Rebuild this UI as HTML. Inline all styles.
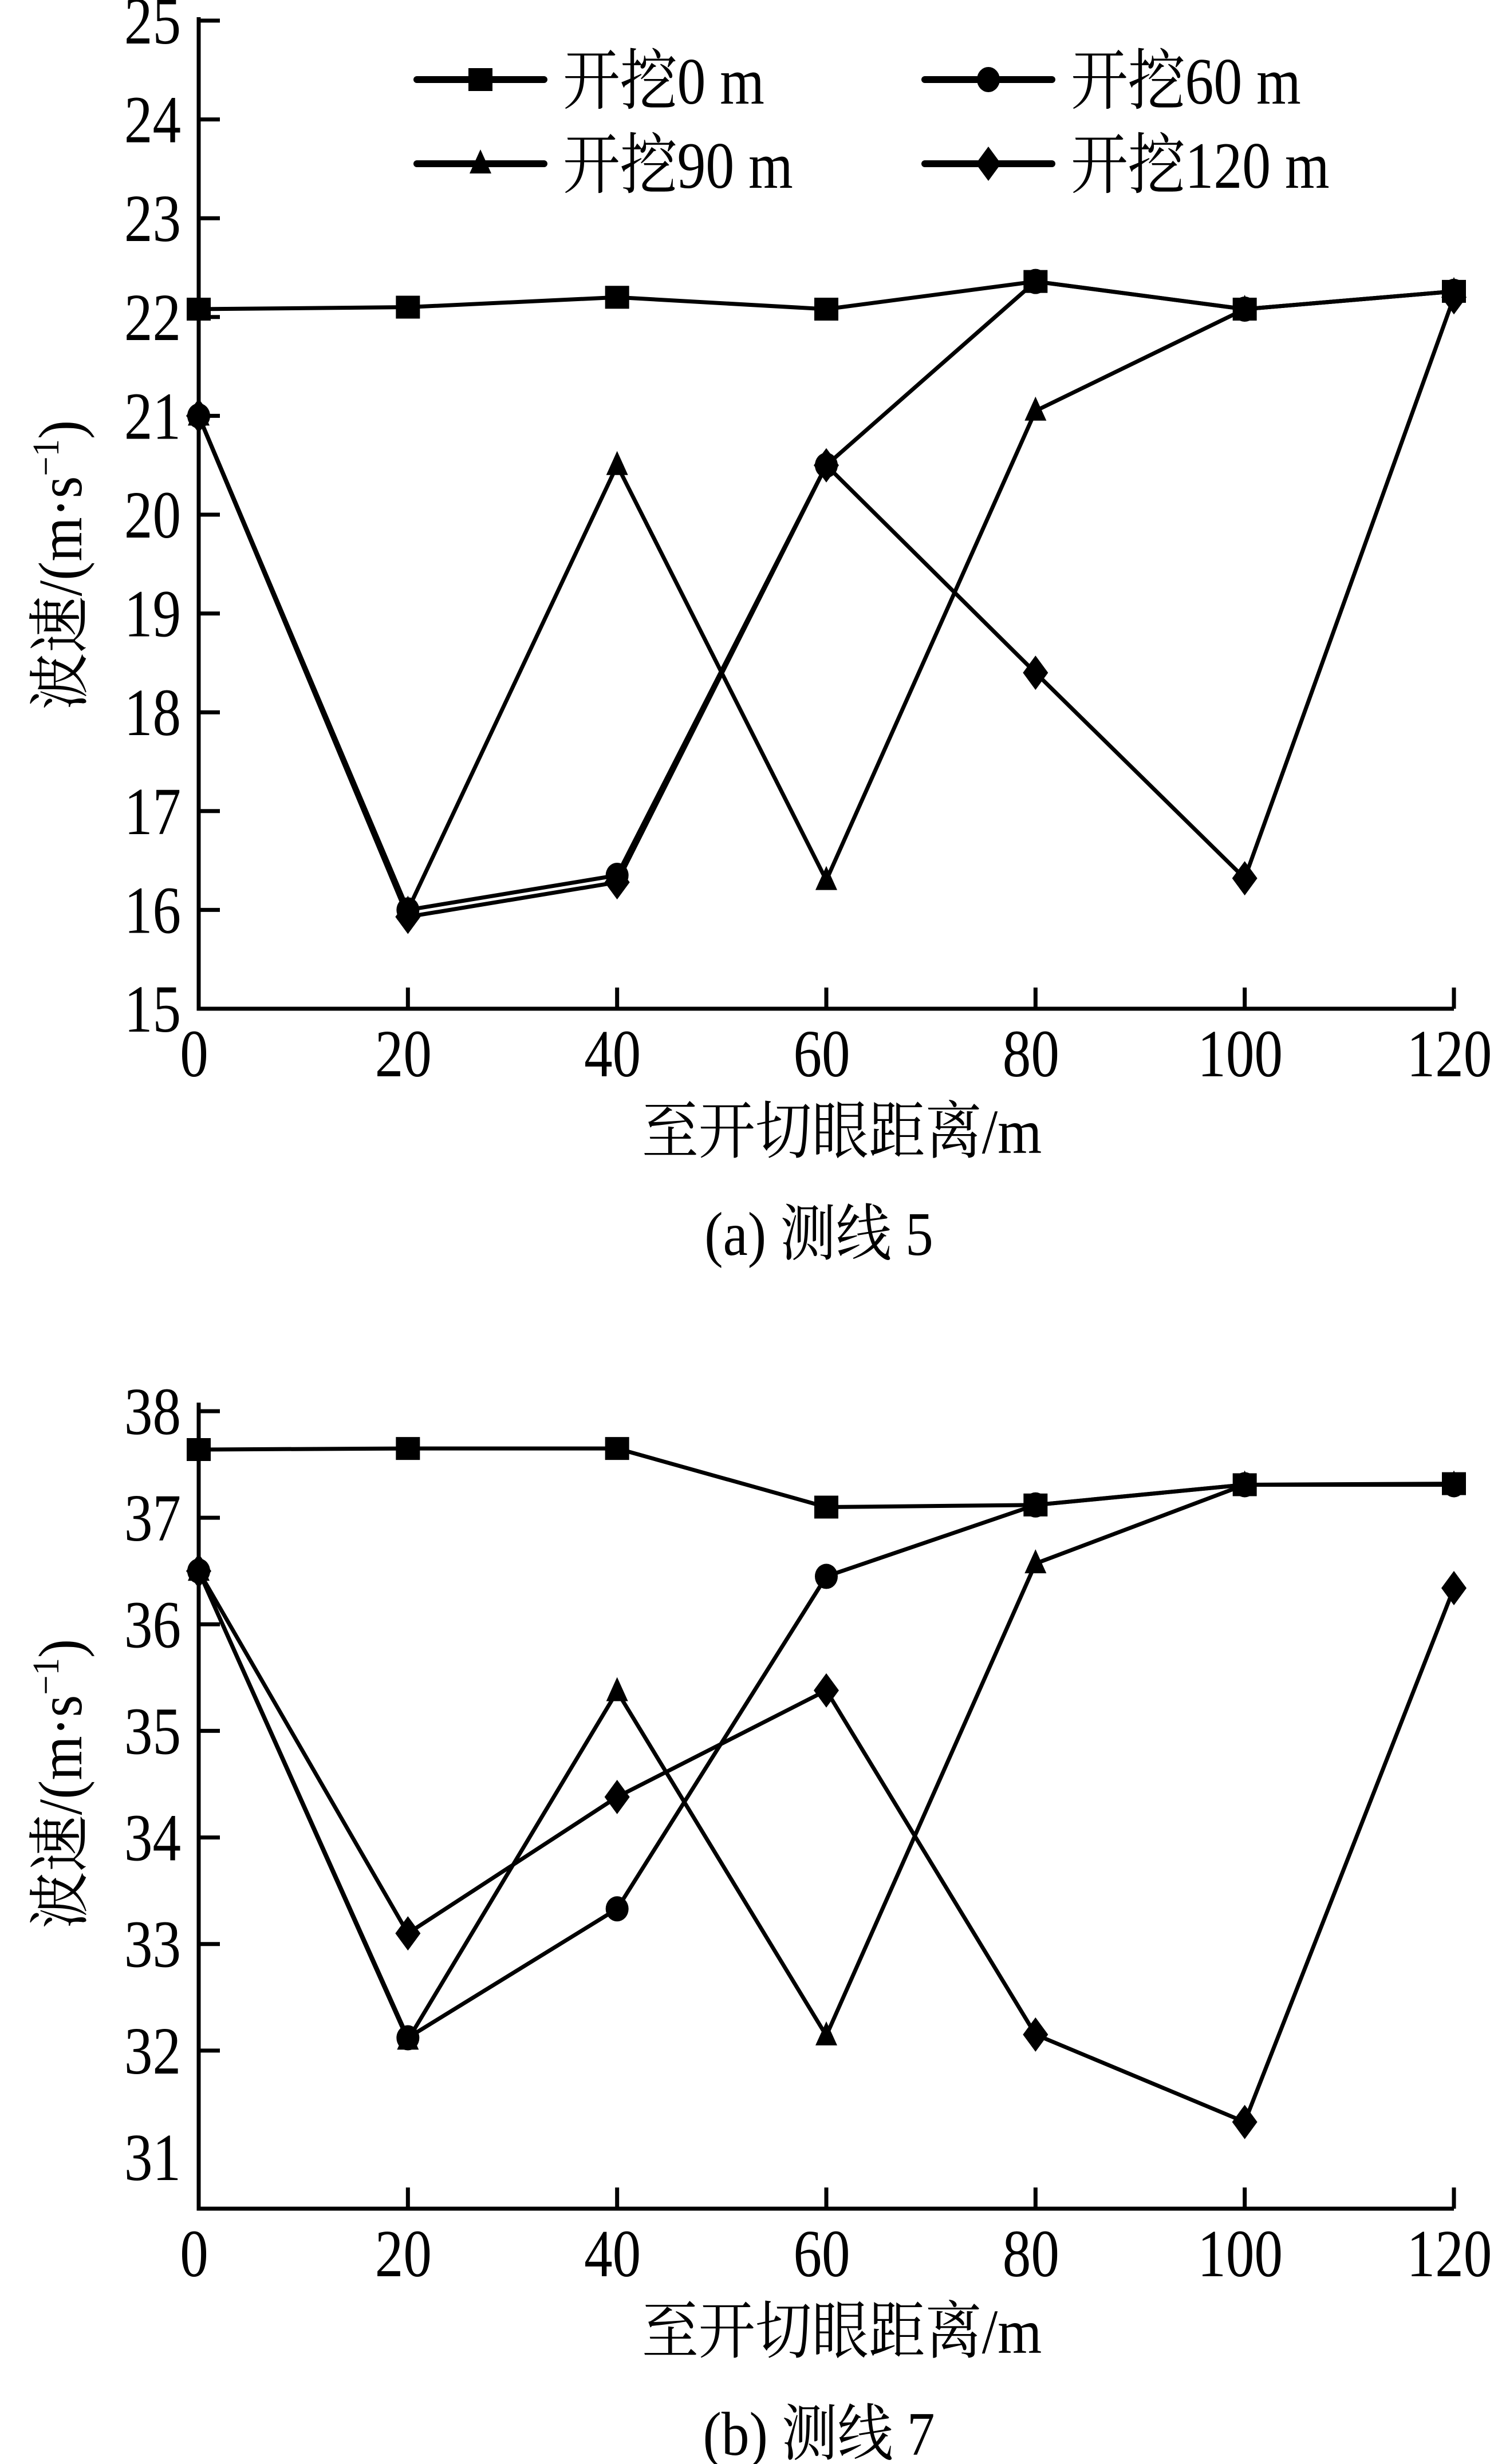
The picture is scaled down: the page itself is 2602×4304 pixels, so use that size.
<!DOCTYPE html>
<html><head><meta charset="utf-8">
<style>
html,body{margin:0;padding:0;background:#fff;}
svg{display:block;}
text{font-family:"Liberation Serif","Noto Serif CJK SC","Noto Sans CJK SC",serif;fill:#000;}
</style></head>
<body>
<svg id="svg" width="2602" height="4304" viewBox="0 0 2602 4304" xmlns="http://www.w3.org/2000/svg"></svg>
<script>
const categories = [0, 20, 40, 60, 80, 100, 120];
const seriesNames = ["开挖0 m", "开挖60 m", "开挖90 m", "开挖120 m"];
const markers = ["square", "circle", "triangle", "diamond"];
// Chart (a) 测线 5
const a_s0 = [22.08, 22.1, 22.2, 22.08, 22.36, 22.08, 22.26];
const a_s60 = [21.0, 16.0, 16.35, 20.5, 22.36, 22.08, 22.26];
const a_s90 = [21.0, 16.0, 20.5, 16.3, 21.05, 22.08, 22.26];
const a_s120 = [21.0, 15.93, 16.28, 20.5, 18.4, 16.32, 22.2];
const a_yTicks = [15, 16, 17, 18, 19, 20, 21, 22, 23, 24, 25];
// Chart (b) 测线 7
const b_s0 = [37.64, 37.65, 37.65, 37.1, 37.12, 37.31, 37.32];
const b_s60 = [36.5, 32.12, 33.33, 36.45, 37.12, 37.31, 37.31];
const b_s90 = [36.5, 32.1, 35.37, 32.14, 36.57, 37.31, 37.31];
const b_s120 = [36.5, 33.1, 34.38, 35.38, 32.15, 31.33, 36.34];
const b_yTicks = [31, 32, 33, 34, 35, 36, 37, 38];

const NS = "http://www.w3.org/2000/svg";
const svg = document.getElementById("svg");
function mk(tag, attrs, parent) {
  const e = document.createElementNS(NS, tag);
  for (const k in attrs) e.setAttribute(k, attrs[k]);
  (parent || svg).appendChild(e);
  return e;
}
function ctext(parent, x, y, size, sx, anchor, content) {
  const t = mk("text", {x: 0, y: 0, "font-size": size, "text-anchor": anchor, transform: `translate(${x},${y}) scale(${sx},1)`}, parent);
  t.textContent = content;
  return t;
}
function marker(g, type, x, y) {
  let e;
  if (type === "square") e = mk("rect", {x: x - 21, y: y - 20, width: 42, height: 40, fill: "#000"}, g);
  else if (type === "circle") e = mk("ellipse", {cx: x, cy: y, rx: 20, ry: 22, fill: "#000"}, g);
  else if (type === "triangle") e = mk("polygon", {points: `${x},${y-25} ${x+19},${y+17} ${x-19},${y+17}`, fill: "#000"}, g);
  else e = mk("polygon", {points: `${x},${y-30} ${x+22},${y} ${x},${y+30} ${x-22},${y}`, fill: "#000"}, g);
  return e;
}

function chart(opts) {
  const {id, top, bottom, yMin, yMax, yTop, yBot, yTicks, series, caption, legend, ytitleY} = opts;
  const X0 = 347, X1 = 2539;
  const xs = v => X0 + (v - 0) / 120 * (X1 - X0);
  const ys = v => yBot - (v - yMin) / (yMax - yMin) * (yBot - yTop);
  const g = mk("g", {});
  
  
  const ax = mk("path", {d: `M${X0},${top} L${X0},${bottom} L${X1},${bottom}`, fill: "none", stroke: "#000", "stroke-width": 7}, g);
  
  
  yTicks.forEach(t => {
    const y = ys(t);
    if (t !== yMin) mk("line", {x1: X0, x2: X0 + 37, y1: y, y2: y, stroke: "#000", "stroke-width": 7}, g);
    const tx = ctext(g, 316, y + 40, 118, 0.84, "end", t);
    
    
  });
  categories.forEach(c => {
    const x = xs(c);
    if (c !== 0) mk("line", {x1: x, x2: x, y1: bottom, y2: bottom - 37, stroke: "#000", "stroke-width": 7}, g);
    const tx = ctext(g, x - 8, bottom + 118, 118, 0.84, "middle", c);
    
    
  });
  const yt = mk("text", {x: 0, y: 0, "font-size": 108, "text-anchor": "middle", transform: `translate(142,${ytitleY}) rotate(-90) scale(0.92,1)`}, g);
  yt.innerHTML = '波速/(m·s<tspan dy="-40" font-size="66">−1</tspan><tspan dy="40">)</tspan>';
  
  
  const xt = ctext(g, 1470, bottom + 252, 110, 0.9, "middle", "至开切眼距离/m");
  
  
  const cp = ctext(g, 1430, bottom + 430, 108, 0.9, "middle", caption);
  
  
  series.forEach((vals, i) => {
    const sg = mk("g", {}, g);
    
    
    const pts = vals.map((v, j) => `${xs(categories[j])},${ys(v)}`).join(" ");
    const pl = mk("polyline", {points: pts, fill: "none", stroke: "#000", "stroke-width": 7, "stroke-linejoin": "round"}, sg);
    
    
    vals.forEach((v, j) => {
      const m = marker(sg, markers[i], xs(categories[j]), ys(v));
      
      
    });
  });
  if (legend) {
    const lg = mk("g", {}, g);
    
    
    const pos = [[728, 139], [1615, 139], [728, 286], [1615, 286]];
    seriesNames.forEach((n, i) => {
      const [lx, ly] = pos[i];
      const eg = mk("g", {}, lg);
      
      
      mk("line", {x1: lx, x2: lx + 222, y1: ly, y2: ly, stroke: "#000", "stroke-width": 12, "stroke-linecap": "round"}, eg);
      marker(eg, markers[i], lx + 111, ly);
      ctext(eg, lx + 255, ly + 42, 116, 0.86, "start", n);
    });
  }
}

chart({id: "a", top: 30, bottom: 1762, yMin: 15, yMax: 25, yTop: 36, yBot: 1762,
  yTicks: a_yTicks, series: [a_s0, a_s60, a_s90, a_s120], caption: "(a) 测线 5", legend: true, ytitleY: 987});
chart({id: "b", top: 2450, bottom: 3858, yMin: 31, yMax: 38, yTop: 2465, yBot: 3768,
  yTicks: b_yTicks, series: [b_s0, b_s60, b_s90, b_s120], caption: "(b) 测线 7", legend: false, ytitleY: 3116});
</script>
</body></html>
